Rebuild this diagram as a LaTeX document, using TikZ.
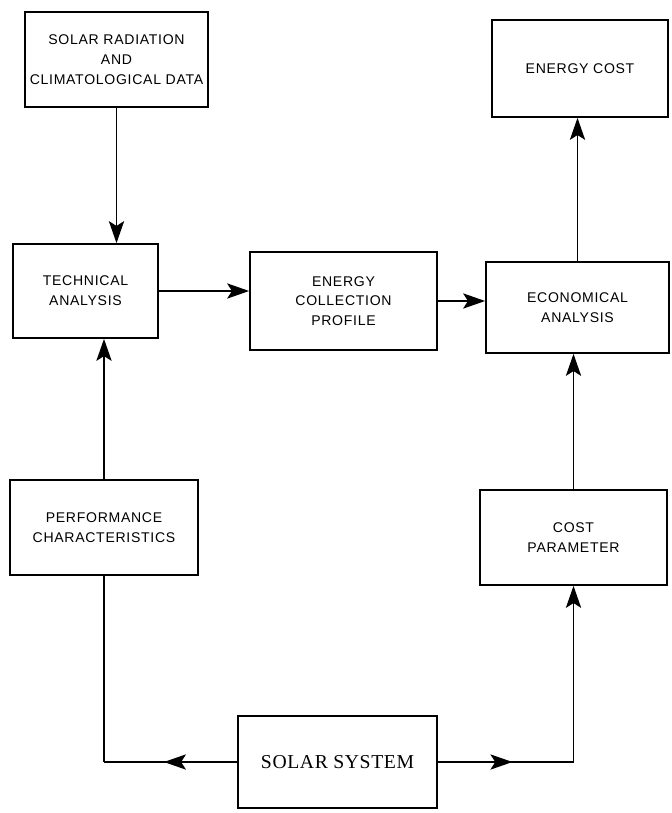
\documentclass[tikz,border=0pt]{standalone}
\usepackage{fontspec}
\newfontfamily\boxfont[LetterSpace=5]{Liberation Sans}
\newfontfamily\sysfont[LetterSpace=3]{Liberation Serif}
\usepackage{tikz}
\usetikzlibrary{arrows.meta, decorations.markings}

\tikzset{
  blockbox/.style 2 args={draw, line width=1.2pt, align=center, inner sep=2pt,
    minimum width=#1*0.025cm, minimum height=#2*0.025cm,
    font=\boxfont\fontsize{10}{14}\selectfont},
  flow/.style={line width=1.2pt},
  midarrow/.style={decoration={markings,
    mark=at position 0.55 with {\arrow{Stealth[length=5.5mm, width=3.8mm, inset=1.2mm]}}},
    postaction={decorate}}
}

\begin{document}
\begin{tikzpicture}[x=0.025cm, y=-0.025cm, >={Stealth[length=5.5mm, width=3.8mm, inset=1.2mm]}]
\useasboundingbox (0,0) rectangle (671,813);
% input blocks (top row)
\node[blockbox={183}{95}] (srd) at (116.5,59.5) {SOLAR RADIATION\\AND\\CLIMATOLOGICAL DATA};
\node[blockbox={176}{97}] (ecost) at (580,68.5) {ENERGY COST};
% analysis row
\node[blockbox={145}{94}] (tech) at (85.5,291) {TECHNICAL\\ANALYSIS};
\node[blockbox={187}{98}] (ecp) at (343.5,301) {ENERGY\\COLLECTION\\PROFILE};
\node[blockbox={183}{91}] (econ) at (577.5,307.5) {ECONOMICAL\\ANALYSIS};
% parameter row
\node[blockbox={188}{95}] (perf) at (104,527.5) {PERFORMANCE\\CHARACTERISTICS};
\node[blockbox={187}{95}] (cpar) at (573.5,537.5) {COST\\PARAMETER};
% the system itself
\node[draw, line width=1.2pt, minimum width=199*0.025cm, minimum height=92*0.025cm,
  font=\sysfont\fontsize{14}{16}\selectfont] (sys) at (337.5,762) {SOLAR SYSTEM};
% vertical links
\draw[->,flow] (srd.south) -- (srd.south |- tech.north);
\draw[->,flow] (perf.north) -- (perf.north |- tech.south);
\draw[->,flow] (econ.north) -- (econ.north |- ecost.south);
\draw[->,flow] (cpar.north) -- (cpar.north |- econ.south);
% horizontal links
\draw[->,flow] (tech.east) -- (tech.east -| ecp.west);
\draw[->,flow] (ecp.east) -- (ecp.east -| econ.west);
% feedback from the solar system
\draw[flow,midarrow] (sys.west) -- (perf.south |- sys.west);
\draw[flow] (perf.south |- sys.west) -- (perf.south);
\draw[flow,midarrow] (sys.east) -- (cpar.south |- sys.east);
\draw[->,flow] (cpar.south |- sys.east) -- (cpar.south);
\end{tikzpicture}
\end{document}
